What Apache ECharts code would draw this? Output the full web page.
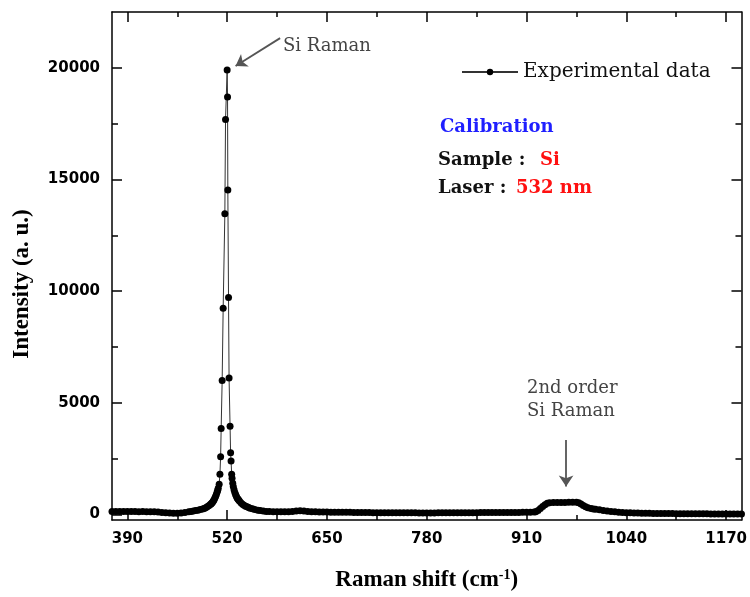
<!DOCTYPE html>
<html>
<head>
<meta charset="utf-8">
<script src="https://cdn.jsdelivr.net/npm/echarts@6/dist/echarts.min.js"></script>
<style>
  html, body { margin: 0; padding: 0; background: #fff; }
  #chart { width: 750px; height: 597px; }
</style>
</head>
<body>
<div id="chart"></div>
<script>
// Raman spectrum of Si: [shift (cm-1), intensity (a.u.)]
var wingLeft = [
  [370,130],[375,132],[380,128],[385,130],[390,127],[395,130],[400,128],[405,125],[410,127],
  [415,124],[420,122],[425,115],[430,105],[435,90],[440,75],[445,62],[450,55],[455,55],
  [460,62],[465,85],[470,115],[473,135],[476,150],[479,170],[482,190],[485,215],[488,245],
  [490,270],[492,300],[494,345],[496,390],[498,440],[499,470],[500,510],[501,550],[502,600],
  [503,660],[504,730],[505,810],[506,900],[507,1000],[507.7,1080]
];
var siPeak = [
  [508.4,1170],[509.6,1350],[510.6,1800],[511.5,2580],[512.2,3850],[513.5,6000],[514.8,9230],
  [517,13460],[517.9,17690],[520,19900],[520.5,18690],[520.9,14530],[521.8,9710],[522.5,6110],
  [523.8,3950],[524.5,2760],[525.1,2390],[525.9,1800],[526.4,1616],[527.3,1393]
];
var wingRight = [
  [528,1250],[529,1100],[530,980],[531,890],[532,810],[533,740],[534,690],[535,647],[536,600],
  [538,520],[540,460],[542,410],[544,370],[546,340],[548,310],[550,280],[553,250],[556,220],
  [560,190],[563,170],[567,150],[571,135],[575,128]
];
var baseline = [
  [580,125],[585,122],[590,120],[595,120],[600,125],[605,135],[610,150],[615,160],[620,150],
  [625,135],[630,125],[635,118],[640,112],[645,108],[650,105],[655,100],[660,98],[665,100],
  [670,97],[675,95],[680,92],[685,90],[690,88],[695,87],[700,85],[705,83],[710,80],[715,80],
  [720,78],[725,77],[730,75],[735,75],[740,73],[745,72],[750,72],[755,70],[760,70],[765,70],
  [770,68],[775,68],[780,67],[785,67],[790,68],[795,70],[800,72],[805,73],[810,72],[815,70],
  [820,70],[825,72],[830,75],[835,77],[840,78],[845,80],[850,82],[855,83],[860,85],[865,85],
  [870,86],[875,86],[880,85],[885,85],[890,86],[895,88],[900,90],[905,92],[910,95],[915,98]
];
var secondOrder = [
  [920,105],[922,120],[925,170],[928,260],[931,350],[934,430],[937,500],[940,525],[945,535],
  [950,538],[955,535],[960,538],[965,542],[970,545],[975,540],[978,520],[981,470],[984,400],
  [987,340],[990,300],[994,265],[997,245],[1000,230]
];
var tail = [
  [1005,205],[1010,180],[1015,155],[1020,135],[1025,115],[1030,100],[1035,88],[1040,78],
  [1045,70],[1050,64],[1055,58],[1060,54],[1065,50],[1070,47],[1075,45],[1080,43],[1085,41],
  [1090,40],[1095,38],[1100,36],[1105,35],[1110,33],[1115,32],[1120,30],[1125,29],[1130,28],
  [1135,27],[1140,26],[1145,25],[1150,24],[1155,23],[1160,22],[1165,21],[1170,20],[1175,19],
  [1180,18],[1185,17],[1190,16]
];

var xMajor = [390, 520, 650, 780, 910, 1040, 1170];
var xMinor = [455, 585, 715, 845, 975, 1105];
var yMajor = [0, 5000, 10000, 15000, 20000];
var yMinor = [2500, 7500, 12500, 17500];

var spectrum = [].concat(wingLeft, siPeak, wingRight, baseline, secondOrder, tail);

(function(){
  var myChart = echarts.init(document.getElementById('chart'), null, {renderer: 'canvas'});
  var frame = {color: '#000', width: 1.5};
  var serif = 'DejaVu Serif';
  var plain = function(v){ return String(v); };

  function xAx(pos, ticks, len, labels, line){
    return {
      type: 'value', position: pos, min: 370, max: 1190, gridIndex: 0,
      axisLine: {show: line, onZero: false, lineStyle: frame},
      axisTick: {inside: true, length: len, customValues: ticks, lineStyle: frame},
      axisLabel: labels ? {
        customValues: ticks, margin: 12, color: '#000', formatter: plain,
        fontFamily: 'DejaVu Sans', fontWeight: 'bold', fontSize: 15
      } : {show: false},
      splitLine: {show: false}
    };
  }
  function yAx(pos, ticks, len, labels, line){
    return {
      type: 'value', position: pos, min: -250, max: 22500, gridIndex: 0,
      axisLine: {show: line, onZero: false, lineStyle: frame},
      axisTick: {inside: true, length: len, customValues: ticks, lineStyle: frame},
      axisLabel: labels ? {
        customValues: ticks, margin: 12, color: '#000', formatter: plain,
        fontFamily: 'DejaVu Sans', fontWeight: 'bold', fontSize: 15
      } : {show: false},
      splitLine: {show: false}
    };
  }

  var xMain = xAx('bottom', xMajor, 10, true, true);
  xMain.name = 'Raman shift (cm{sup|-1})';
  xMain.nameLocation = 'middle';
  xMain.nameGap = 48;
  xMain.nameTextStyle = {
    fontFamily: 'Liberation Serif', fontWeight: 'bold', fontSize: 23, color: '#000',
    rich: {
      sup: {fontFamily: 'Liberation Serif', fontWeight: 'bold', fontSize: 14,
            color: '#000', verticalAlign: 'top', padding: [0, 0, 10, 0]}
    }
  };

  var option = {
    animation: false,
    backgroundColor: '#fff',
    grid: {left: 112, right: 3, top: 12, bottom: 77},
    legend: {
      data: ['Experimental data'],
      left: 456, top: 57,
      itemWidth: 56, itemHeight: 8, itemGap: 6,
      textStyle: {fontFamily: serif, fontSize: 20, color: '#111'}
    },
    xAxis: [
      xMain,
      xAx('bottom', xMinor, 5, false, false),
      xAx('top', xMajor, 10, false, true),
      xAx('top', xMinor, 5, false, false)
    ],
    yAxis: [
      yAx('left', yMajor, 10, true, true),
      yAx('left', yMinor, 6, false, false),
      yAx('right', yMajor, 10, false, true),
      yAx('right', yMinor, 6, false, false)
    ],
    graphic: [
      {type: 'text', rotation: Math.PI / 2, x: 22, y: 284,
        style: {text: 'Intensity (a. u.)', align: 'center', verticalAlign: 'middle',
          fontFamily: 'Liberation Serif', fontWeight: 'bold', fontSize: 23, fill: '#000'}},
      {type: 'text', left: 283, top: 37,
        style: {text: 'Si Raman', fontFamily: serif, fontSize: 18, fill: '#444'}},
      {type: 'text', left: 527, top: 379,
        style: {text: '2nd order', fontFamily: serif, fontSize: 18, fill: '#444'}},
      {type: 'text', left: 527, top: 402,
        style: {text: 'Si Raman', fontFamily: serif, fontSize: 18, fill: '#444'}},
      {type: 'text', left: 440, top: 118,
        style: {text: 'Calibration', fontFamily: serif, fontWeight: 'bold', fontSize: 18, fill: '#1f1fff'}},
      {type: 'text', left: 438, top: 151,
        style: {text: 'Sample :', fontFamily: serif, fontWeight: 'bold', fontSize: 18, fill: '#111'}},
      {type: 'text', left: 540, top: 151,
        style: {text: 'Si', fontFamily: serif, fontWeight: 'bold', fontSize: 18, fill: '#ff1010'}},
      {type: 'text', left: 438, top: 179,
        style: {text: 'Laser :', fontFamily: serif, fontWeight: 'bold', fontSize: 18, fill: '#111'}},
      {type: 'text', left: 516, top: 179,
        style: {text: '532 nm', fontFamily: serif, fontWeight: 'bold', fontSize: 18, fill: '#ff1010'}}
    ],
    series: [
      {
        name: 'Experimental data',
        type: 'line',
        xAxisIndex: 0, yAxisIndex: 0,
        data: spectrum,
        symbol: 'circle',
        symbolSize: 7,
        showSymbol: true,
        showAllSymbol: true,
        itemStyle: {color: '#000'},
        lineStyle: {color: '#333', width: 1},
        markLine: {
          silent: true,
          symbol: ['none', 'arrow'],
          symbolSize: 11,
          label: {show: false},
          itemStyle: {color: '#555'},
          lineStyle: {color: '#555', width: 1.8, type: 'solid'},
          data: [
            [{coord: [589, 21330]}, {coord: [531, 20080]}],
            [{coord: [961.5, 3335]}, {coord: [961.5, 1250]}]
          ]
        }
      }
    ]
  };
  myChart.setOption(option);
})();
</script>
</body>
</html>
